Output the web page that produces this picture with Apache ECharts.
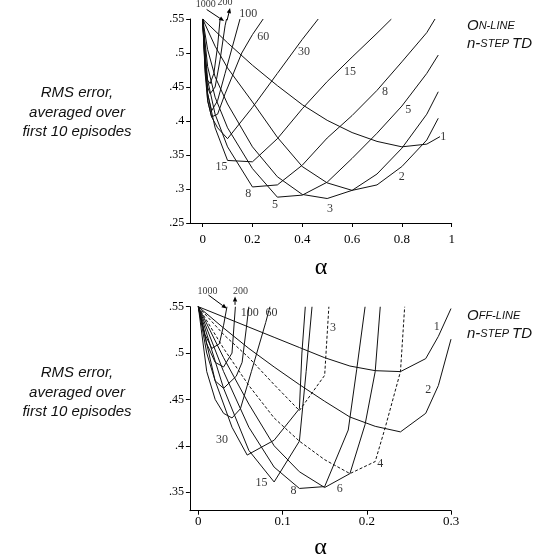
<!DOCTYPE html>
<html>
<head>
<meta charset="utf-8">
<script src="https://cdn.jsdelivr.net/npm/echarts@6/dist/echarts.min.js"></script>
<style>
html, body { margin: 0; padding: 0; background: #fff; }
#main { width: 554px; height: 558px; }
</style>
</head>
<body>
<div id="main"></div>
<script>
// on-line n-step TD, [alpha, rms] per n
var on1 = [[0, .55], [.1, .515], [.2, .482], [.3, .452], [.4, .424], [.5, .401], [.6, .383], [.7, .370], [.8, .362], [.9, .366], [.953, .377]]
var on2 = [[0, .55], [.05, .51], [.1, .478], [.2, .428], [.3, .376], [.4, .333], [.5, .309], [.6, .298], [.7, .306], [.8, .333], [.9, .372], [.946, .404]]
var on3 = [[0, .55], [.02, .505], [.05, .465], [.1, .425], [.2, .362], [.3, .318], [.4, .292], [.5, .286], [.6, .298], [.7, .322], [.8, .36], [.9, .41], [.946, .443]]
var on5 = [[0, .55], [.02, .48], [.05, .435], [.1, .39], [.2, .33], [.3, .288], [.4, .291], [.5, .31], [.6, .345], [.7, .382], [.8, .422], [.9, .47], [.946, .497]]
var on8 = [[0, .55], [.02, .46], [.05, .41], [.1, .362], [.2, .303], [.3, .306], [.4, .335], [.5, .375], [.6, .408], [.7, .445], [.8, .487], [.9, .53], [.933, .55]]
var on15 = [[0, .55], [.02, .44], [.05, .39], [.1, .342], [.2, .34], [.3, .374], [.4, .418], [.5, .458], [.6, .494], [.7, .529], [.758, .55]]
var on30 = [[0, .55], [.02, .43], [.036, .406], [.06, .39], [.1, .374], [.2, .42], [.3, .47], [.4, .52], [.464, .55]]
var on60 = [[0, .55], [.01, .47], [.02, .43], [.036, .406], [.06, .41], [.09, .44], [.157, .50], [.2, .527], [.243, .55]]
var on100 = [[0, .55], [.01, .475], [.02, .44], [.036, .415], [.06, .43], [.09, .47], [.12, .51], [.15, .55]]
var on200 = [[0, .55], [.01, .48], [.02, .45], [.03, .44], [.05, .45], [.07, .49], [.09, .54], [.096, .55]]
var on1000 = [[0, .55], [.01, .485], [.02, .46], [.03, .455], [.045, .47], [.06, .51], [.07, .55]]

// off-line n-step TD
var off1 = [[0, .55], [.03, .539], [.06, .528], [.09, .517], [.12, .506], [.15, .495], [.18, .486], [.21, .481], [.24, .48], [.27, .494], [.285, .518], [.3, .548]]
var off2 = [[0, .55], [.03, .527], [.06, .505], [.09, .485], [.12, .466], [.15, .448], [.18, .431], [.21, .421], [.24, .415], [.27, .435], [.285, .465], [.3, .515]]
var off3 = [[0, .55], [.03, .52], [.06, .495], [.09, .466], [.12, .438], [.15, .476], [.155, .55]]
var off4 = [[0, .55], [.03, .505], [.06, .465], [.09, .43], [.12, .405], [.15, .385], [.18, .37], [.21, .383], [.222, .42], [.24, .48], [.245, .55]]
var off6 = [[0, .55], [.03, .495], [.06, .445], [.09, .40], [.12, .372], [.15, .355], [.18, .370], [.198, .423], [.21, .48], [.216, .55]]
var off8 = [[0, .55], [.03, .48], [.06, .42], [.09, .377], [.12, .354], [.15, .356], [.178, .417], [.188, .482], [.198, .55]]
var off15 = [[0, .55], [.03, .462], [.06, .395], [.09, .361], [.12, .405], [.128, .48], [.135, .55]]
var off30 = [[0, .55], [.02, .47], [.04, .42], [.058, .39], [.09, .406], [.12, .44], [.123, .50], [.127, .55]]
var off60 = [[0, .55], [.01, .48], [.02, .45], [.03, .435], [.04, .43], [.05, .44], [.063, .48], [.08, .533], [.085, .55]]
var off100 = [[0, .55], [.01, .50], [.02, .47], [.03, .462], [.045, .475], [.052, .49], [.057, .527], [.06, .55]]
var off200 = [[0, .55], [.01, .51], [.02, .49], [.03, .485], [.04, .50], [.044, .55]]
var off1000 = [[0, .55], [.008, .52], [.016, .505], [.025, .51], [.03, .53], [.034, .55]]

// curve labels [text, alpha, rms]
var onLabels = [['1000', .0125, .571], ['200', .09, .574], ['100', .183, .558], ['60', .243, .524], ['30', .407, .502],
    ['15', .592, .472], ['8', .732, .443], ['5', .826, .416], ['1', .966, .377], ['2', .799, .318],
    ['3', .511, .271], ['5', .29, .277], ['8', .183, .293], ['15', .076, .332]]
var offLabels = [['1000', .011, .567], ['200', .05, .567], ['100', .061, .543], ['60', .087, .543], ['3', .160, .527],
    ['1', .283, .528], ['2', .273, .460], ['4', .216, .381], ['6', .168, .354], ['8', .113, .351],
    ['15', .075, .360], ['30', .028, .406]]
// little arrows from the 1000 / 200 labels, [from, to]
var onArrows = [[[.016, .564], [.086, .547]], [[.098, .548], [.11, .566]]]
var offArrows = [[[.012, .5626], [.0337, .548]], [[.0436, .552], [.0436, .561]]]

var onX = [0, .2, .4, .6, .8, 1]
var offX = [0, .1, .2, .3]
var onY = [.25, .3, .35, .4, .45, .5, .55]
var offY = [.35, .4, .45, .5, .55]

var onCurves = [on1, on2, on3, on5, on8, on15, on30, on60, on100, on200, on1000]
var offCurves = [off1, off2, off3, off4, off6, off8, off15, off30, off60, off100, off200, off1000]
var offDashed = [off3, off4]

var serif = 'Liberation Serif, DejaVu Serif, serif'

function tickFmt(v) {
    var s = String(Math.round(v * 100) / 100)
    return s.replace(/^0\./, '.')
}
function xFmt(v) {
    var r = Math.round(v * 10) / 10
    return r === 0 ? '0' : (r === 1 ? '1' : r.toFixed(1))
}

function makeX(idx, min, max, ticks, labelGap, nameGap) {
    return {
        type: 'value', gridIndex: idx, min: min, max: max,
        name: 'α', nameLocation: 'middle', nameGap: nameGap,
        nameTextStyle: {fontFamily: serif, fontSize: 24, color: '#000'},
        axisLine: {onZero: false, lineStyle: {color: '#000', width: 1}},
        axisTick: {show: true, length: 4, customValues: ticks, lineStyle: {color: '#000'}},
        axisLabel: {customValues: ticks, formatter: xFmt, margin: labelGap, fontFamily: serif, fontSize: 13, color: '#000'},
        splitLine: {show: false}
    }
}
function makeY(idx, min, max, ticks) {
    return {
        type: 'value', gridIndex: idx, min: min, max: max,
        axisLine: {show: true, onZero: false, lineStyle: {color: '#000', width: 1}},
        axisTick: {show: true, length: 4, customValues: ticks, lineStyle: {color: '#000'}},
        axisLabel: {customValues: ticks, formatter: tickFmt, margin: 6, fontFamily: serif, fontSize: 12, color: '#000'},
        splitLine: {show: false}
    }
}

var series = []
onCurves.forEach(function (c) {
    series.push({type: 'line', xAxisIndex: 0, yAxisIndex: 0, data: c, showSymbol: false, silent: true,
        lineStyle: {color: '#111', width: 1}})
})
offCurves.forEach(function (c) {
    var dashed = offDashed.indexOf(c) >= 0
    series.push({type: 'line', xAxisIndex: 1, yAxisIndex: 1, data: c, showSymbol: false, silent: true,
        lineStyle: {color: '#111', width: 1, type: dashed ? [3, 2] : 'solid'}})
})

function labelSeries(idx, labels) {
    return {
        type: 'scatter', xAxisIndex: idx, yAxisIndex: idx, clip: false, silent: true,
        symbolSize: 0,
        data: labels.map(function (l, i) {
            var d = {name: l[0], value: [l[1], l[2]]}
            if (i < 2) d.label = {fontSize: 10}
            return d
        }),
        label: {
            show: true, position: 'inside', formatter: '{b}', color: '#000',
            fontFamily: serif, fontSize: 12
        }
    }
}
series.push(labelSeries(0, onLabels))
series.push(labelSeries(1, offLabels))

function sideText(top) {
    return ['RMS error,', 'averaged over', 'first 10 episodes'].map(function (t, i) {
        return {
            type: 'text', silent: true,
            style: {text: t, x: 77, y: top + i * 19.5, align: 'center', verticalAlign: 'middle',
                fill: '#111', font: 'italic 15px "Liberation Sans", Arial, sans-serif'}
        }
    })
}
function richText(y, parts) {
    return {
        type: 'text', silent: true,
        style: {
            x: 467, y: y, verticalAlign: 'middle', fill: '#111',
            text: parts,
            rich: {
                a: {fontFamily: 'Liberation Sans', fontStyle: 'italic', fontSize: 15, fill: '#111'},
                b: {fontFamily: 'Liberation Sans', fontStyle: 'italic', fontSize: 11, fill: '#111'}
            }
        }
    }
}

var graphics = [].concat(sideText(93), sideText(373), [
    richText(26, '{a|O}{b|N-LINE}'), richText(44, '{a|n-}{b|STEP }{a|TD}'),
    richText(316, '{a|O}{b|FF-LINE}'), richText(334, '{a|n-}{b|STEP }{a|TD}')
])

var chart = echarts.init(document.getElementById('main'))
chart.setOption({
    backgroundColor: '#fff',
    animation: false,
    grid: [
        {left: 190.2, top: 19, width: 261.5, height: 204, outerBoundsMode: 'none'},
        {left: 189.9, top: 306.7, width: 261.1, height: 204, outerBoundsMode: 'none'}
    ],
    xAxis: [makeX(0, -0.05, 1, onX, 10, 33), makeX(1, -0.01, 0.3, offX, 4, 25)],
    yAxis: [makeY(0, .25, .55, onY), makeY(1, .33, .55, offY)],
    series: series,
    graphic: graphics
})

// arrows: positions come from the axes
function arrowGraphics(gridIndex, arrows) {
    var out = []
    arrows.forEach(function (a) {
        var p0 = chart.convertToPixel({gridIndex: gridIndex}, a[0])
        var p1 = chart.convertToPixel({gridIndex: gridIndex}, a[1])
        var ang = Math.atan2(p1[1] - p0[1], p1[0] - p0[0])
        var L = 5, W = 2.2
        var bx = p1[0] - L * Math.cos(ang), by = p1[1] - L * Math.sin(ang)
        out.push({type: 'line', silent: true, shape: {x1: p0[0], y1: p0[1], x2: bx, y2: by},
            style: {stroke: '#000', lineWidth: 1}})
        out.push({type: 'polygon', silent: true, shape: {points: [
            [p1[0], p1[1]],
            [bx + W * Math.sin(ang), by - W * Math.cos(ang)],
            [bx - W * Math.sin(ang), by + W * Math.cos(ang)]
        ]}, style: {fill: '#000'}})
    })
    return out
}
chart.setOption({graphic: graphics.concat(arrowGraphics(0, onArrows), arrowGraphics(1, offArrows))})
</script>
</body>
</html>
